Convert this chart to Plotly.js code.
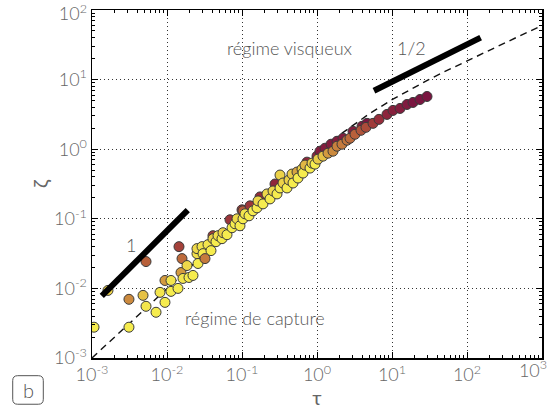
<!DOCTYPE html>
<html>
<head>
<meta charset="utf-8">
<script src="https://cdn.plot.ly/plotly-3.0.1.min.js"></script>
<style>html,body{margin:0;padding:0;background:#fff;}#chart{width:552px;height:410px;}</style>
</head>
<body>
<div id="chart"></div>
<script>
// measured points: tau, zeta, tone (0 = yellow ... 1 = dark magenta)
const tau = [
  0.00525, 0.01445, 0.041, 0.0692, 0.1, 0.1031, 0.1279, 0.1738, 0.2754, 0.7356, 1.0,
  1.096, 1.279, 1.537, 1.848, 2.222, 3.02, 3.981, 4.642,
  0.001064, 0.00311, 0.001634, 0.00311, 0.00479, 0.00525, 0.00714, 0.00807, 0.0094, 0.0094,
  0.0113, 0.0113, 0.01585, 0.01537, 0.01402, 0.01634, 0.01848, 0.01965, 0.0222, 0.0251,
  0.0259, 0.0251, 0.0293, 0.0302, 0.0321, 0.0352, 0.0386, 0.041, 0.045, 0.0479,
  0.0541, 0.0558, 0.0631, 0.0736, 0.0807, 0.0858, 0.094, 0.1031, 0.1096, 0.124,
  0.1402, 0.1585, 0.1634, 0.1905, 0.2154, 0.2362, 0.2591, 0.2929, 0.3211, 0.3211,
  0.3522, 0.3981, 0.4233, 0.4642, 0.4786, 0.5412, 0.5581, 0.631, 0.6506, 0.6918,
  0.8065, 0.8577, 0.9404, 1.031, 1.202,
  1.402, 1.634, 1.848, 2.154, 2.512, 2.754, 3.211, 3.862, 4.5, 5.58,
  6.71, 8.58, 10.31, 12.79, 15.85, 19.05, 23.62, 29.29
];
const zeta = [
  0.0243, 0.0398, 0.0572, 0.0968, 0.1345, 0.1301, 0.1534, 0.2062, 0.3162, 0.6519, 0.7943,
  0.936, 1.033, 1.179, 1.301, 1.436, 1.807, 2.131, 2.352,
  0.00277, 0.00277, 0.00936, 0.00697, 0.00794, 0.00553, 0.00454, 0.00877, 0.0063, 0.013,
  0.013, 0.00906, 0.0268, 0.0169, 0.01, 0.0139, 0.0213, 0.01436, 0.01535, 0.0316,
  0.0228, 0.0373, 0.0398, 0.0316, 0.0268, 0.0425, 0.0349, 0.0518, 0.0469, 0.0572,
  0.0518, 0.0631, 0.0591, 0.0744, 0.0848, 0.1, 0.0794, 0.1, 0.1179, 0.1104,
  0.1301, 0.1436, 0.1807, 0.1638, 0.2276, 0.1931, 0.2512, 0.2276, 0.4253, 0.2774,
  0.3268, 0.2774, 0.3606, 0.4394, 0.3268, 0.4695, 0.3852, 0.5179, 0.4541, 0.5907,
  0.5353, 0.631, 0.6105, 0.7197, 0.7943,
  0.877, 0.936, 1.104, 1.179, 1.345, 1.436, 1.638, 1.868, 2.062, 2.352,
  2.683, 3.162, 3.607, 3.853, 4.394, 4.695, 5.179, 5.72
];
const tone = [
  0.68, 0.78, 0.8, 0.82, 0.82, 0.7, 0.82, 0.85, 0.88, 0.88, 0.9,
  0.95, 0.95, 0.95, 0.95, 0.95, 0.95, 0.95, 1.0,
  0.0, 0.0, 0.2, 0.55, 0.3, 0.05, 0.0, 0.05, 0.0, 0.5,
  0.05, 0.0, 0.65, 0.5, 0.0, 0.05, 0.15, 0.0, 0.0, 0.1,
  0.0, 0.15, 0.05, 0.0, 0.6, 0.05, 0.0, 0.2, 0.0, 0.1,
  0.0, 0.2, 0.0, 0.0, 0.0, 0.15, 0.0, 0.0, 0.05, 0.0,
  0.0, 0.0, 0.15, 0.0, 0.15, 0.0, 0.15, 0.0, 0.2, 0.0,
  0.2, 0.0, 0.2, 0.25, 0.0, 0.45, 0.0, 0.2, 0.0, 0.35,
  0.0, 0.2, 0.0, 0.25, 0.3,
  0.5, 0.55, 0.58, 0.6, 0.62, 0.65, 0.68, 0.72, 0.75, 0.8,
  0.85, 0.9, 0.93, 0.95, 0.97, 1.0, 1.0, 1.0
];

// model curve
const modelTau = [0.001, 0.003, 0.01, 0.03, 0.1, 0.3, 1, 2, 3, 5, 10, 20, 30, 50, 100, 200, 300, 500, 1000];
const modelZeta = [0.001, 0.003, 0.00999, 0.0299, 0.0986, 0.288, 0.885, 1.604, 2.216, 3.235, 5.145, 7.811, 9.82, 12.96, 18.64, 26.59, 32.67, 42.28, 59.89];

// slope guides
const slope1Tau = [0.00135, 0.0189];
const slope1Zeta = [0.0078, 0.133];
const slopeHalfTau = [5.75, 152];
const slopeHalfZeta = [6.92, 40.1];

// ticks
const xTickVals = [0.001, 0.01, 0.1, 1, 10, 100];
const xTickText = ['10<sup>-3</sup>', '10<sup>-2</sup>', '10<sup>-1</sup>', '10<sup>0</sup>', '10<sup>1</sup>', '10<sup>2</sup>'];
const xLastTickVals = [1000];
const xLastTickText = ['10<sup>3</sup>'];
const yTickVals = [0.001, 0.01, 0.1, 1, 10];
const yTickText = ['10<sup>-3</sup>', '10<sup>-2</sup>', '10<sup>-1</sup>', '10<sup>0</sup>', '10<sup>1</sup>'];
const yLastTickVals = [100];
const yLastTickText = ['10<sup>2</sup>'];

const textColor = '#666';
const fontFam = 'Lato, "Open Sans", sans-serif';

const traces = [
  {x: modelTau, y: modelZeta, mode: 'lines', line: {color: '#111', width: 1.4, dash: '7px,5px'}, hoverinfo: 'skip', showlegend: false},
  {x: tau, y: zeta, mode: 'markers', showlegend: false,
   marker: {size: 10, color: tone, cmin: 0, cmax: 1,
     colorscale: [[0, '#f6ec4e'], [0.25, '#e9cb47'], [0.5, '#d39a3f'], [0.7, '#b55a3a'], [0.85, '#962c3a'], [1, '#7a1540']],
     line: {color: '#3a3a3a', width: 1}}},
  {x: slope1Tau, y: slope1Zeta, mode: 'lines', line: {color: '#000', width: 6}, showlegend: false},
  {x: slopeHalfTau, y: slopeHalfZeta, mode: 'lines', line: {color: '#000', width: 6}, showlegend: false},
  {x: [], y: [], xaxis: 'x2', yaxis: 'y', mode: 'markers', showlegend: false},
  {x: [], y: [], xaxis: 'x', yaxis: 'y2', mode: 'markers', showlegend: false}
];

const axisCommon = {
  type: 'log', showline: true, linecolor: '#000', linewidth: 1.5, mirror: 'ticks',
  ticks: 'inside', ticklen: 6, tickwidth: 1, tickcolor: '#000',
  showgrid: true, gridcolor: '#333', gridwidth: 1, griddash: '1px,3px',
  zeroline: false,
  minor: {dtick: 'D1', ticks: 'inside', ticklen: 3, tickwidth: 1, tickcolor: '#000', showgrid: false},
  tickfont: {family: fontFam, size: 18, color: textColor, weight: 300},
  ticklabeloverflow: 'allow',
  tickmode: 'array'
};

const labelOnlyAxis = {
  type: 'log', tickmode: 'array', showgrid: false, showline: false, zeroline: false, ticks: '',
  ticklabeloverflow: 'allow', tickfont: {family: fontFam, size: 18, color: textColor, weight: 300}
};

const layout = {
  width: 552, height: 410,
  margin: {l: 92, r: 10, t: 10, b: 52},
  paper_bgcolor: '#fff', plot_bgcolor: '#fff',
  font: {family: fontFam, color: textColor},
  showlegend: false,
  xaxis: Object.assign({}, axisCommon, {range: [-3, 3], tickvals: xTickVals, ticktext: xTickText,
    title: {text: 'τ', font: {family: fontFam, size: 20, color: textColor}, standoff: 2}}),
  xaxis2: Object.assign({}, labelOnlyAxis, {overlaying: 'x', side: 'bottom', anchor: 'y', range: [-3, 3],
    tickvals: xLastTickVals, ticktext: xLastTickText, ticklabelshift: -9}),
  yaxis: Object.assign({}, axisCommon, {range: [-3, 2], tickvals: yTickVals, ticktext: yTickText,
    title: {text: 'ζ', font: {family: fontFam, size: 20, color: textColor}, standoff: 0}}),
  yaxis2: Object.assign({}, labelOnlyAxis, {overlaying: 'y', side: 'left', anchor: 'x', range: [-3, 2],
    tickvals: yLastTickVals, ticktext: yLastTickText, ticklabelshift: 4, ticklabelstandoff: 4}),
  annotations: [
    {xref: 'paper', yref: 'paper', x: 0.44, y: 0.892, xanchor: 'center', yanchor: 'middle', text: 'régime visqueux', showarrow: false, font: {family: fontFam, size: 18, color: '#555', weight: 300}},
    {xref: 'paper', yref: 'paper', x: 0.71, y: 0.890, xanchor: 'center', yanchor: 'middle', text: '1/2', showarrow: false, font: {family: fontFam, size: 18, color: '#555', weight: 300}},
    {xref: 'paper', yref: 'paper', x: 0.086, y: 0.324, xanchor: 'center', yanchor: 'middle', text: '1', showarrow: false, font: {family: fontFam, size: 18, color: '#555', weight: 300}},
    {xref: 'paper', yref: 'paper', x: 0.362, y: 0.115, xanchor: 'center', yanchor: 'middle', text: 'régime de capture', showarrow: false, font: {family: fontFam, size: 18, color: '#555', weight: 300}},
    {xref: 'paper', yref: 'paper', x: -0.1422, y: -0.0918, xanchor: 'center', yanchor: 'middle', text: 'b', showarrow: false, font: {family: fontFam, size: 20, color: '#555', weight: 300}}
  ],
  shapes: [
    {type: 'path', xref: 'paper', yref: 'paper', line: {color: '#555', width: 1},
     path: 'M-0.1651,-0.0508 L-0.1193,-0.0508 Q-0.1082,-0.0508 -0.1082,-0.0651 L-0.1082,-0.1186 Q-0.1082,-0.1329 -0.1193,-0.1329 L-0.1651,-0.1329 Q-0.1762,-0.1329 -0.1762,-0.1186 L-0.1762,-0.0651 Q-0.1762,-0.0508 -0.1651,-0.0508 Z'}
  ]
};

Plotly.newPlot('chart', traces, layout, {staticPlot: true, displayModeBar: false});
</script>
</body>
</html>
